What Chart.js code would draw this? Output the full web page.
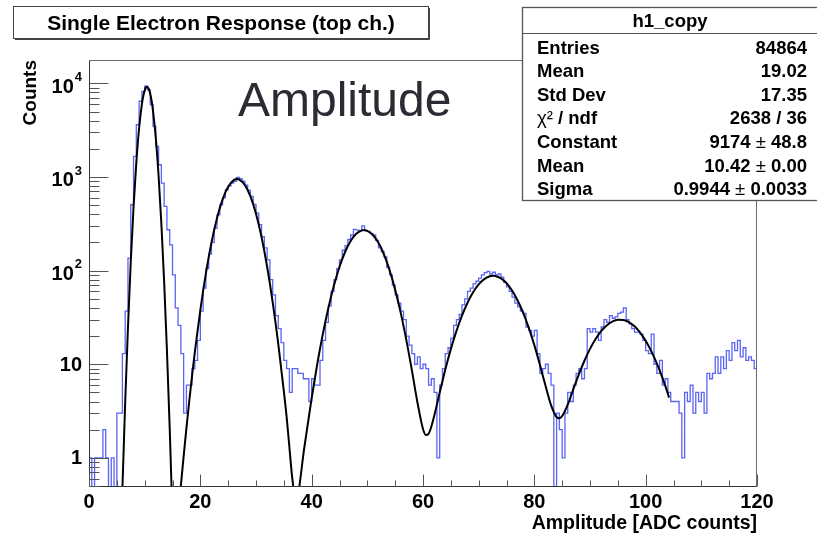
<!DOCTYPE html>
<html>
<head>
<meta charset="utf-8">
<title>Single Electron Response (top ch.)</title>
<script src="https://cdn.jsdelivr.net/npm/chart.js@4.4.1/dist/chart.umd.min.js"></script>
<style>
  html, body { margin: 0; padding: 0; background: #fff; }
  canvas { display: block; }
</style>
</head>
<body>
<canvas id="amp-chart" width="817" height="535"></canvas>
<script>
const FONT = "'Liberation Sans', Arial, Helvetica, sans-serif";

// histogram: 240 bins of 0.5 ADC counts between 0 and 120
const binWidth = 0.5;
const counts = [
    1, 0, 1, 1, 1, 2, 1, 0, 1, 0, 3, 3, 13, 37, 136, 505, 1660, 3610, 6430, 8220,
    9300, 8500, 5910, 3470, 2120, 1350, 860, 485, 273, 188, 90, 40, 26, 13, 3, 6, 6, 9, 11, 18,
    37, 65, 105, 150, 200, 283, 394, 505, 600, 730, 800, 860, 900, 990, 960, 900, 820, 720, 620, 510,
    410, 310, 230, 175, 130, 80, 55, 33, 24, 17, 11, 9, 5, 9, 9, 8, 8, 7, 7, 4,
    7, 6, 6, 11, 18, 28, 42, 60, 80, 105, 130, 165, 185, 215, 240, 275, 270, 265, 300, 265,
    262, 250, 240, 210, 175, 160, 140, 108, 90, 70, 55, 45, 37, 30, 20, 16, 13, 10, 12, 9,
    10, 9, 6, 7, 5, 1, 6, 9, 13, 15, 19, 26, 30, 34, 43, 50, 60, 65, 72, 77,
    83, 90, 95, 98, 92, 96, 90, 92, 85, 75, 67, 60, 52, 45, 41, 37, 35, 25, 23, 20,
    23, 13, 8, 9, 10, 8, 6, 0, 3, 2, 1, 3, 5, 4, 6, 8, 9, 7, 9, 24,
    22, 24, 22, 18, 25, 30, 28, 33, 31, 32, 35, 36, 40, 30, 27, 24, 22, 22, 21, 18,
    14, 13, 21, 10, 8, 11, 6, 7, 5, 4, 4, 4, 3, 1, 5, 4, 6, 3, 5, 4,
    5, 3, 8, 7, 8, 12, 8, 12, 9, 14, 11, 17, 14, 18, 12, 15, 11, 12, 11, 9
];

// fit curve, points
const fitX = [5.5, 6, 6.5, 7, 7.5, 8, 8.5, 9, 9.5, 9.75, 10, 10.25, 10.42, 10.75, 11, 11.25, 11.5, 12, 12.5, 13,
    13.5, 14, 14.5, 15, 15.5, 16, 16.5, 17, 17.5, 18, 18.5, 19, 20, 21, 22, 23, 24, 25, 26, 26.6,
    27, 28, 29, 30, 31, 32, 33, 34, 35, 35.5, 36, 36.5, 37, 37.5, 38, 38.5, 39, 40, 41, 42,
    43, 44, 45, 46, 47, 48, 49, 49.4, 50, 51, 52, 53, 54, 55, 56, 57, 58, 59, 60, 60.5,
    61, 62, 63, 64, 65, 66, 67, 68, 69, 70, 71, 72, 72.6, 73, 74, 75, 76, 77, 78, 79,
    80, 81, 82, 83, 84, 84.5, 85, 86, 87, 88, 89, 90, 91, 92, 93, 94, 95, 96, 97, 98,
    99, 100, 101, 102, 103, 104, 104.2];
const fitY = [0.044, 0.47, 3.9, 24.8, 123, 475, 1422, 3311, 5980, 7311, 8391, 9041, 9174, 8683, 7739, 6478, 5087, 2597, 1029, 317,
    75.8, 14.1, 2.05, 0.27, 0.125, 0.234, 0.503, 1.04, 2.08, 4.0, 7.41, 13.3, 37.9, 93.4, 199, 364, 576, 786, 925, 950,
    939, 822, 620, 404, 227, 110, 45.9, 16.5, 5.16, 2.74, 1.3, 0.62, 0.4, 0.4, 0.62, 1.08, 1.73, 4.35, 10.0, 20.9,
    39.9, 69.3, 110, 158, 207, 247, 269, 271, 266, 240, 198, 148, 101, 62.6, 35.4, 18.2, 8.65, 3.91, 2.04, 1.76,
    1.81, 2.79, 4.99, 8.74, 14.5, 22.6, 33.0, 45.4, 58.7, 71.2, 81.2, 87.0, 88, 87.6, 82.8, 73.5, 61.3, 48.0, 35.4, 24.5,
    16.0, 9.89, 5.92, 3.66, 2.73, 2.65, 2.80, 3.70, 5.40, 7.81, 10.9, 14.6, 18.6, 22.6, 26.0, 28.6, 29.9, 29.7, 28.2, 25.4,
    21.8, 17.8, 13.8, 10.2, 7.2, 4.83, 4.4];

// axes
const xMajorTicks = [0, 20, 40, 60, 80, 100, 120];
const xMinorStep = 5;
const yMajorTicks = [1, 10, 100, 1000, 10000];
const yTickLabels = [['1', ''], ['10', ''], ['10', '2'], ['10', '3'], ['10', '4']];

// texts
const titleText = 'Single Electron Response (top ch.)';
const statsHeader = 'h1_copy';
const statsNames = ['Entries', 'Mean', 'Std Dev', 'χ² / ndf', 'Constant', 'Mean', 'Sigma'];
const statsValues = ['84864', '19.02', '17.35', '2638 / 36', '9174 ± 48.8', '10.42 ± 0.00', '0.9944 ± 0.0033'];

// empty bins go below the log axis, like ROOT does
const EMPTY = 0.01;
const histPoints = [{ x: 0, y: EMPTY }];
counts.forEach((c, i) => histPoints.push({ x: i * binWidth, y: c > 0 ? c : EMPTY }));
histPoints.push({ x: counts.length * binWidth, y: counts[counts.length - 1] || EMPTY });
histPoints.push({ x: counts.length * binWidth, y: EMPTY });

const fitPoints = fitX.map((x, i) => ({ x: x, y: fitY[i] }));

function font(size, bold) {
    return (bold ? 'bold ' : '') + size + 'px ' + FONT;
}

// draw a string where the symbol characters use a regular weight
function drawRich(ctx, text, xPos, yBase, size, align) {
    const runs = [];
    for (const ch of text) {
        const bold = !'χ²±'.includes(ch);
        if (runs.length && runs[runs.length - 1].bold === bold) runs[runs.length - 1].t += ch;
        else runs.push({ t: ch, bold: bold });
    }
    let w = 0;
    runs.forEach(r => { ctx.font = font(size, r.bold); w += ctx.measureText(r.t).width; });
    let cx = align === 'right' ? xPos - w : xPos;
    ctx.textAlign = 'left';
    runs.forEach(r => {
        ctx.font = font(size, r.bold);
        ctx.fillText(r.t, cx, yBase);
        cx += ctx.measureText(r.t).width;
    });
}

const rootStyle = {
    id: 'rootStyle',
    afterDatasetsDraw(chart) {
        const { ctx, chartArea: a, scales: { x, y } } = chart;
        const L = Math.round(a.left) + 0.5, R = Math.round(a.right) - 0.5;
        const T = Math.round(a.top) + 0.5, B = Math.round(a.bottom) - 0.5;
        ctx.save();
        ctx.lineWidth = 1;

        // frame
        ctx.strokeStyle = '#6a6a6a';
        ctx.beginPath();
        ctx.moveTo(L, T); ctx.lineTo(R, T); ctx.lineTo(R, B);
        ctx.stroke();

        // axes
        ctx.strokeStyle = '#333';
        ctx.beginPath();
        ctx.moveTo(L, T); ctx.lineTo(L, B); ctx.lineTo(R, B);
        ctx.stroke();

        // y ticks, inside the frame
        ctx.strokeStyle = '#555';
        ctx.beginPath();
        [0.1, 1, 10, 100, 1000, 10000].forEach(d => {
            for (let m = 1; m <= 9; m++) {
                const v = m * d;
                if (v < y.min || v > y.max) continue;
                const py = Math.round(y.getPixelForValue(v)) + 0.5;
                const len = m === 1 ? 19 : 10;
                ctx.moveTo(L, py); ctx.lineTo(L + len, py);
            }
        });
        // x ticks
        for (let v = x.min; v <= x.max; v += xMinorStep) {
            const px = Math.round(x.getPixelForValue(v)) + 0.5;
            const len = xMajorTicks.includes(v) ? 12 : 6;
            ctx.moveTo(px, B); ctx.lineTo(px, B - len);
        }
        ctx.stroke();

        // y labels, right-aligned a few pixels left of the axis
        const labelRight = a.left - 7;
        ctx.fillStyle = '#000';
        ctx.textBaseline = 'middle';
        yMajorTicks.forEach((v, i) => {
            const py = y.getPixelForValue(v);
            const [base, exp] = yTickLabels[i];
            ctx.textAlign = 'right';
            if (!exp) {
                ctx.font = font(20, true);
                ctx.fillText(base, labelRight, py + 1);
            } else {
                ctx.font = font(13, true);
                const ew = ctx.measureText(exp).width;
                ctx.fillText(exp, labelRight, py - 6);
                ctx.font = font(20, true);
                ctx.fillText(base, labelRight - ew - 1, py + 4);
            }
        });
        ctx.restore();
    },
    afterDraw(chart) {
        const { ctx } = chart;
        ctx.save();
        ctx.textBaseline = 'alphabetic';

        // title box
        ctx.fillStyle = '#fff';
        ctx.fillRect(13.5, 6.5, 415, 32);
        ctx.strokeStyle = '#444';
        ctx.lineWidth = 1;
        ctx.strokeRect(13.5, 6.5, 415, 32);
        ctx.beginPath();
        ctx.moveTo(15, 39.5); ctx.lineTo(429.5, 39.5); ctx.lineTo(429.5, 8);
        ctx.stroke();
        ctx.fillStyle = '#000';
        ctx.font = font(21, true);
        ctx.textAlign = 'center';
        ctx.fillText(titleText, 221, 30);

        // stats box
        const sl = 522.5, st = 7.5, sr = 817, sb = 200.5;
        ctx.fillStyle = '#fff';
        ctx.fillRect(sl, st, sr - sl, sb - st);
        ctx.strokeStyle = '#555';
        ctx.lineWidth = 1.3;
        ctx.strokeRect(sl, st, sr - sl + 2, sb - st);
        ctx.lineWidth = 1;
        ctx.beginPath();
        ctx.moveTo(sl, 33.5); ctx.lineTo(sr, 33.5);
        ctx.stroke();
        ctx.fillStyle = '#000';
        ctx.font = font(18.5, true);
        ctx.textAlign = 'center';
        ctx.fillText(statsHeader, 670, 27);
        statsNames.forEach((name, i) => {
            const yb = 53.5 + i * 23.6;
            drawRich(ctx, name, 537, yb, 18.5, 'left');
            drawRich(ctx, statsValues[i], 807, yb, 18.5, 'right');
        });

        // big label
        ctx.fillStyle = '#2b2b33';
        ctx.font = font(48, false);
        ctx.textAlign = 'left';
        ctx.fillText('Amplitude', 238, 116);
        ctx.restore();
    }
};

new Chart(document.getElementById('amp-chart'), {
    type: 'line',
    data: {
        datasets: [{
            label: 'fit',
            data: fitPoints,
            borderColor: '#000',
            borderWidth: 2,
            pointRadius: 0,
            fill: false,
            cubicInterpolationMode: 'monotone',
            capBezierPoints: false
        }, {
            label: 'h1_copy',
            data: histPoints,
            borderColor: '#5a64f5',
            borderWidth: 1.3,
            pointRadius: 0,
            fill: false,
            stepped: true
        }]
    },
    options: {
        responsive: false,
        animation: false,
        events: [],
        layout: { padding: { left: 0, right: 60, top: 60, bottom: 0 } },
        plugins: {
            legend: { display: false },
            tooltip: { enabled: false },
            title: { display: false }
        },
        scales: {
            x: {
                type: 'linear',
                min: 0,
                max: 120,
                grid: { display: false, drawTicks: false },
                border: { display: false },
                afterBuildTicks: s => { s.ticks = xMajorTicks.map(v => ({ value: v })); },
                afterFit: s => { s.height = 48; },
                ticks: {
                    autoSkip: false,
                    maxRotation: 0,
                    padding: 3,
                    color: '#000',
                    font: { family: FONT, size: 20, weight: 'bold' },
                    callback: v => String(v)
                },
                title: {
                    display: true,
                    text: 'Amplitude [ADC counts]',
                    align: 'end',
                    color: '#000',
                    font: { family: FONT, size: 19.5, weight: 'bold' },
                    padding: { top: 0, bottom: 0 }
                }
            },
            y: {
                type: 'logarithmic',
                min: 0.489,
                max: 17740,
                grid: { display: false, drawTicks: false },
                border: { display: false },
                afterFit: s => { s.width = 89; },
                ticks: { display: false },
                title: {
                    display: true,
                    text: 'Counts',
                    align: 'end',
                    color: '#000',
                    font: { family: FONT, size: 19, weight: 'bold' },
                    padding: { top: 19, bottom: 0 }
                }
            }
        }
    },
    plugins: [rootStyle]
});
</script>
</body>
</html>
